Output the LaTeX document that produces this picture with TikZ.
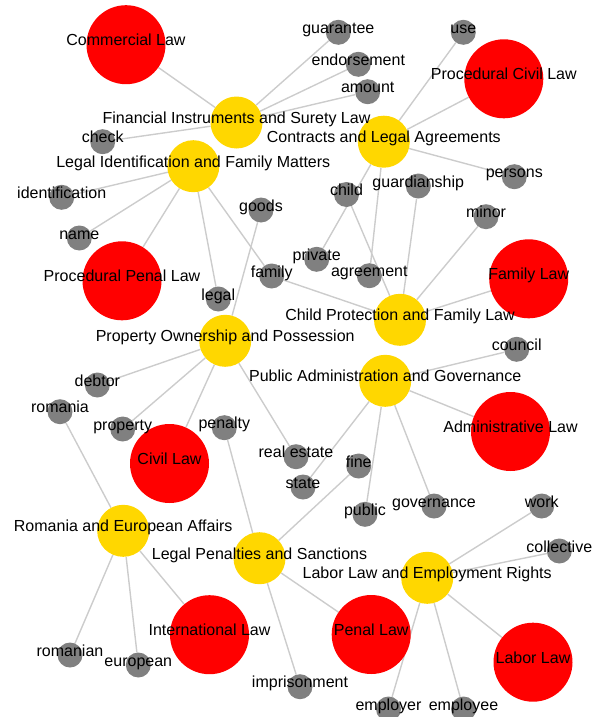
\documentclass[tikz,border=0pt]{standalone}
\usepackage{fontspec}
\setmainfont{Liberation Sans}
\usetikzlibrary{backgrounds}
\definecolor{redn}{RGB}{255,0,0}
\definecolor{yeln}{RGB}{255,215,0}
\definecolor{grayn}{RGB}{128,128,128}
\definecolor{edgec}{RGB}{204,204,204}
\begin{document}
\begin{tikzpicture}[x=1pt,y=-1pt,
  law/.style={circle,fill=redn,minimum size=79pt,inner sep=0pt},
  topic/.style={circle,fill=yeln,minimum size=52pt,inner sep=0pt},
  word/.style={circle,fill=grayn,minimum size=25pt,inner sep=0pt},
  lbl/.style={anchor=base,yshift=-1pt,inner sep=0pt,font=\fontsize{16}{19}\selectfont,text=black},
  conn/.style={draw=edgec,line width=1.4pt}]
\useasboundingbox (0,0) rectangle (598,717);
% law nodes
\node[law] (comm)   at (126,44.7) {};
\node[law] (pcivil) at (503.8,78.8) {};
\node[law] (ppenal) at (122,280.8) {};
\node[law] (famlaw) at (528.7,278.8) {};
\node[law] (admin)  at (510.5,431.5) {};
\node[law] (civil)  at (169.5,463.5) {};
\node[law] (intl)   at (209.5,634.7) {};
\node[law] (penal)  at (371.2,634.5) {};
\node[law] (labor)  at (533,662.2) {};
% topic nodes
\node[topic] (fi)        at (236.5,122.5) {};
\node[topic] (contracts) at (383.8,141.7) {};
\node[topic] (legalid)   at (193.3,166.2) {};
\node[topic] (childprot) at (400,319.8) {};
\node[topic] (propown)   at (225.2,340.8) {};
\node[topic] (pubadmin)  at (385.2,380.8) {};
\node[topic] (roeu)      at (123.2,530.8) {};
\node[topic] (legalpen)  at (259.5,558.2) {};
\node[topic] (laborrt)   at (427.2,577.8) {};
% word nodes
\node[word] (guarantee)    at (338.3,32.3) {};
\node[word] (use)          at (463.3,32.3) {};
\node[word] (endorsement)  at (358.3,64.3) {};
\node[word] (amount)       at (367.7,91.7) {};
\node[word] (check)        at (102.7,141.7) {};
\node[word] (persons)      at (514.3,176.7) {};
\node[word] (identification) at (61.7,197.3) {};
\node[word] (child)        at (346.5,194.5) {};
\node[word] (guardianship) at (418.3,186) {};
\node[word] (goods)        at (261,210) {};
\node[word] (minor)        at (486,216.7) {};
\node[word] (name)         at (79.3,238) {};
\node[word] (private)      at (316.7,259.3) {};
\node[word] (family)       at (271.7,276) {};
\node[word] (agreement)    at (369.3,275.7) {};
\node[word] (legal)        at (218.3,299) {};
\node[word] (council)      at (516.7,349.3) {};
\node[word] (debtor)       at (97.3,385) {};
\node[word] (romania)      at (60,411.7) {};
\node[word] (property)     at (122.7,429) {};
\node[word] (penalty)      at (224.3,427.7) {};
\node[word] (realestate)   at (296,456.7) {};
\node[word] (fine)         at (358.7,466) {};
\node[word] (state)        at (303,487) {};
\node[word] (public)       at (365,514.3) {};
\node[word] (governance)   at (434,506) {};
\node[word] (work)         at (541.7,506) {};
\node[word] (collective)   at (559.3,551) {};
\node[word] (romanian)     at (70,655) {};
\node[word] (european)     at (138.3,665) {};
\node[word] (imprisonment) at (300,686.7) {};
\node[word] (employer)     at (388.5,709) {};
\node[word] (employee)     at (463.5,709) {};
% edges
\begin{pgfonlayer}{background}
\foreach \a/\b in {fi/comm,fi/guarantee,fi/endorsement,fi/amount,fi/check,
  contracts/use,contracts/pcivil,contracts/persons,contracts/private,contracts/agreement,
  legalid/identification,legalid/name,legalid/ppenal,legalid/legal,legalid/family,
  childprot/family,childprot/child,childprot/guardianship,childprot/minor,childprot/famlaw,
  propown/goods,propown/debtor,propown/property,propown/civil,propown/realestate,
  pubadmin/council,pubadmin/admin,pubadmin/state,pubadmin/public,pubadmin/governance,
  roeu/romania,roeu/romanian,roeu/european,roeu/intl,
  legalpen/penalty,legalpen/fine,legalpen/penal,legalpen/imprisonment,
  laborrt/work,laborrt/collective,laborrt/labor,laborrt/employer,laborrt/employee}
  \draw[conn] (\a) -- (\b);
\end{pgfonlayer}
% labels
\foreach \n/\t in {comm/Commercial Law,pcivil/Procedural Civil Law,ppenal/Procedural Penal Law,
  famlaw/Family Law,admin/Administrative Law,civil/Civil Law,intl/International Law,
  penal/Penal Law,labor/Labor Law,
  fi/Financial Instruments and Surety Law,contracts/Contracts and Legal Agreements,
  legalid/Legal Identification and Family Matters,childprot/Child Protection and Family Law,
  propown/Property Ownership and Possession,pubadmin/Public Administration and Governance,
  roeu/Romania and European Affairs,legalpen/Legal Penalties and Sanctions,
  laborrt/Labor Law and Employment Rights,
  guarantee/guarantee,use/use,endorsement/endorsement,amount/amount,check/check,
  persons/persons,identification/identification,child/child,guardianship/guardianship,
  goods/goods,minor/minor,name/name,private/private,family/family,agreement/agreement,
  legal/legal,council/council,debtor/debtor,romania/romania,property/property,
  penalty/penalty,realestate/real estate,fine/fine,state/state,public/public,
  governance/governance,work/work,collective/collective,romanian/romanian,
  european/european,imprisonment/imprisonment,employer/employer,employee/employee}
  \node[lbl] (\n-l) at (\n) {\t};
\end{tikzpicture}
\end{document}
